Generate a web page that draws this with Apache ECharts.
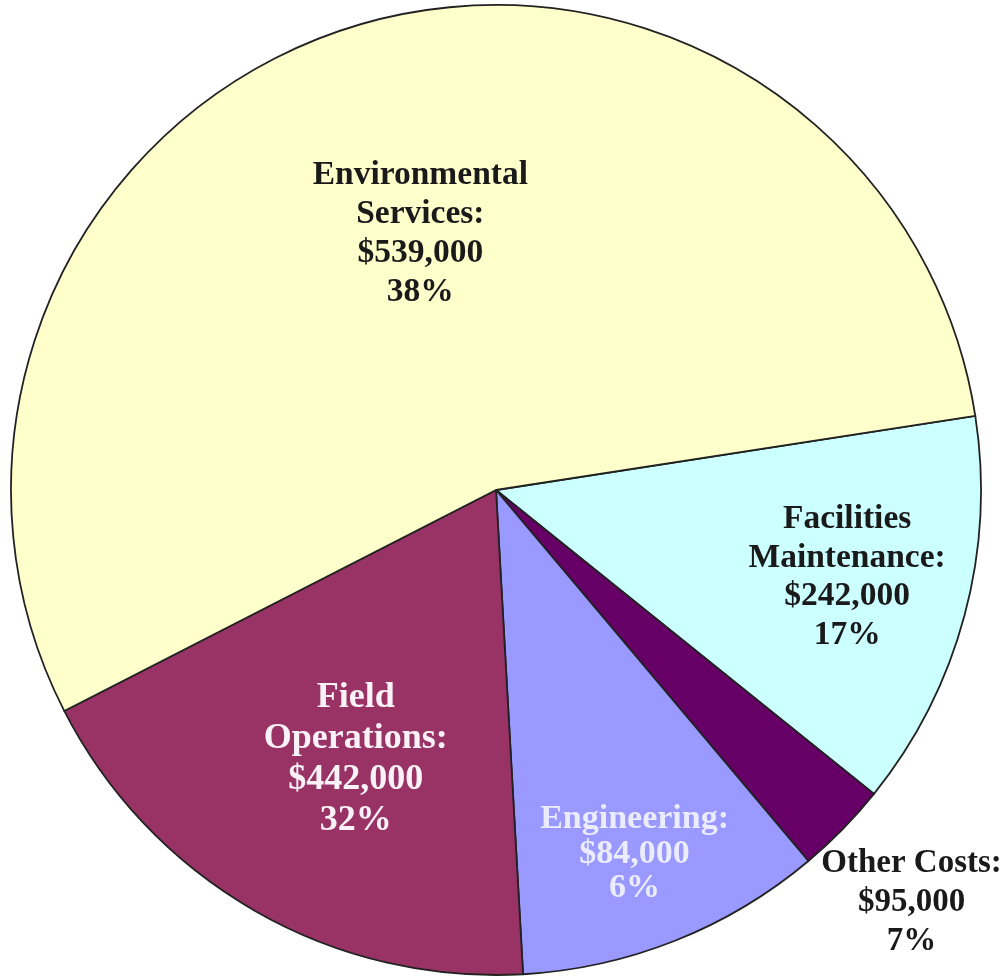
<!DOCTYPE html>
<html>
<head>
<meta charset="utf-8">
<script src="https://cdn.jsdelivr.net/npm/echarts@6/dist/echarts.min.js"></script>
<style>
html,body{margin:0;padding:0;background:#fff;}
#chart{width:1005px;height:978px;}
</style>
</head>
<body>
<div id="chart"></div>
<script>
// Categories in clockwise drawing order (starting at the Environmental/Facilities boundary)
const categories = ["Facilities\nMaintenance:", "Other Costs:", "Engineering:", "Field\nOperations:", "Environmental\nServices:"];
// Dollar amounts and percentages as printed on the labels
const amounts = ["$242,000", "$95,000", "$84,000", "$442,000", "$539,000"];
const percents = ["17%", "7%", "6%", "32%", "38%"];
const sliceSizes = [47.6, 11.1, 36.9, 66.1, 198.3];

// styling (kept separate from data)
const colors = ["#CCFFFF", "#660066", "#9999FF", "#993366", "#FFFFCC"];
const labelColors = ["#1a1a1a", "#1a1a1a", "#ECECFF", "#FAF2F6", "#1a1a1a"];
const labelFontSizes = [33.5, 33, 34, 36, 33.5];
const labelLineHeights = [38.5, 39, 34.5, 41, 39];
const labelShift = [[114, 24], [240, 241], [48, 136], [-18, 56], [0, -23]];

const chart = echarts.init(document.getElementById('chart'), null, {renderer: 'canvas'});
chart.setOption({
  backgroundColor: '#ffffff',
  animation: false,
  series: [{
    type: 'pie',
    center: [496, 490],
    radius: [0, 485],
    startAngle: 8.8,
    clockwise: true,
    avoidLabelOverlap: false,
    silent: true,
    itemStyle: {borderColor: '#222222', borderWidth: 1.8},
    label: {
      show: true,
      position: 'inside',
      fontFamily: '"Liberation Serif", serif',
      fontWeight: 'bold',
      fontSize: 33,
      lineHeight: 39,
      align: 'center',
      formatter: function (p) {
        return categories[p.dataIndex] + '\n' + amounts[p.dataIndex] + '\n' + percents[p.dataIndex];
      }
    },
    labelLine: {show: false},
    labelLayout: function (params) {
      const s = labelShift[params.dataIndex];
      return {dx: s[0], dy: s[1]};
    },
    data: sliceSizes.map(function (v, i) {
      return {
        value: v,
        name: categories[i],
        itemStyle: {color: colors[i]},
        label: {color: labelColors[i], fontSize: labelFontSizes[i], lineHeight: labelLineHeights[i]}
      };
    })
  }]
});
</script>
</body>
</html>
